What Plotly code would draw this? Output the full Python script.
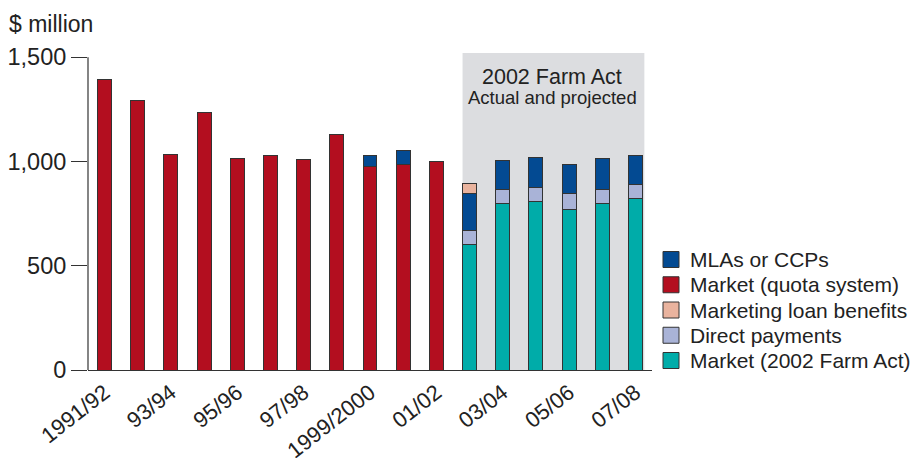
import plotly.graph_objects as go

# Crop years, one bar each
years = ["1991/92", "1992/93", "1993/94", "1994/95", "1995/96", "1996/97",
         "1997/98", "1998/99", "1999/2000", "2000/01", "2001/02", "2002/03",
         "2003/04", "2004/05", "2005/06", "2006/07", "2007/08"]
tick_idx = [0, 2, 4, 6, 8, 10, 12, 14, 16]
tick_text = ["1991/92", "93/94", "95/96", "97/98", "1999/2000", "01/02",
             "03/04", "05/06", "07/08"]

# $ million by component
market_quota = [1393, 1290, 1035, 1233, 1014, 1029, 1008, 1129, 977, 984, 998,
                None, None, None, None, None, None]
market_2002 = [None] * 11 + [602, 799, 807, 771, 799, 821]
direct_payments = [None] * 11 + [67, 68, 68, 74, 68, 67]
mlas_ccps = [None] * 8 + [52, 67, None, 177, 139, 146, 140, 147, 141]
loan_benefits = [None] * 11 + [50, None, None, None, None, None]

x = list(range(len(years)))
outline = dict(color="#333333", width=1)
font = "Liberation Sans, Arial, Helvetica, sans-serif"
ink = "#222222"

W, H = 914, 458
ML, MR, MT, MB = 88, 262, 53, 88
PW, PH = W - ML - MR, H - MT - MB

fig = go.Figure()
series = [
    ("Market (quota system)", market_quota, "#B30E1F"),
    ("Market (2002 Farm Act)", market_2002, "#00ACA9"),
    ("Direct payments", direct_payments, "#A9B3D7"),
    ("MLAs or CCPs", mlas_ccps, "#034A92"),
    ("Marketing loan benefits", loan_benefits, "#E9B39E"),
]
colors = {}
for name, vals, col in series:
    colors[name] = col
    fig.add_trace(go.Bar(
        x=x, y=vals, name=name, width=0.42,
        marker=dict(color=col, line=outline),
        hoverinfo="name+y", showlegend=False,
    ))

# shaded projection period
fig.add_shape(type="rect", xref="x", yref="y", x0=10.79, x1=16.27, y0=0, y1=1520,
              fillcolor="#DCDDE0", line=dict(width=0), layer="below")
# vertical axis line up to the top tick
fig.add_shape(type="line", xref="paper", yref="y", x0=0, x1=0, y0=0, y1=1500,
              line=dict(color="#333333", width=1.2))

fig.add_annotation(x=13.5, y=1405, xref="x", yref="y", text="2002 Farm Act",
                   showarrow=False, font=dict(size=21.5, color=ink, family=font))
fig.add_annotation(x=13.5, y=1307, xref="x", yref="y", text="Actual and projected",
                   showarrow=False, font=dict(size=18.5, color=ink, family=font))
fig.add_annotation(x=(7 - ML) / PW, y=(H - MB - 24) / PH, xref="paper", yref="paper",
                   xanchor="left", yanchor="middle", text="$ million", showarrow=False,
                   font=dict(size=23, color=ink, family=font))

# legend, top to bottom
legend_order = ["MLAs or CCPs", "Market (quota system)", "Marketing loan benefits",
                "Direct payments", "Market (2002 Farm Act)"]
for i, name in enumerate(legend_order):
    cy = 259.5 + i * 25.25
    x0 = (663 - ML) / PW
    x1 = (679 - ML) / PW
    y0 = (H - MB - (cy + 8)) / PH
    y1 = (H - MB - (cy - 8)) / PH
    fig.add_shape(type="rect", xref="paper", yref="paper", x0=x0, x1=x1, y0=y0, y1=y1,
                  fillcolor=colors[name], line=dict(color="#333333", width=1))
    fig.add_annotation(x=(688 - ML) / PW, y=(H - MB - cy) / PH, xref="paper",
                       yref="paper", xanchor="left", yanchor="middle", text=name,
                       showarrow=False, font=dict(size=21, color=ink, family=font))

fig.update_layout(
    width=W, height=H,
    margin=dict(l=ML, r=MR, t=MT, b=MB, autoexpand=False),
    barmode="stack",
    plot_bgcolor="white", paper_bgcolor="white",
    font=dict(family=font, color=ink, size=18),
    showlegend=False,
    xaxis=dict(range=[-0.5, 16.5], tickmode="array", tickvals=tick_idx,
               ticktext=tick_text, tickangle=-38, showgrid=False,
               showline=True, linecolor="#333333", linewidth=1.2, ticks="",
               tickfont=dict(size=22), zeroline=False, automargin=False),
    yaxis=dict(range=[0, 1520], tickvals=[0, 500, 1000, 1500],
               ticktext=["0", "500", "1,000", "1,500"], showgrid=False,
               showline=False, ticks="outside", ticklen=16, tickcolor="#333333",
               tickwidth=1.2, tickfont=dict(size=23.5), zeroline=False,
               automargin=False),
)

fig.write_html("out.html")
